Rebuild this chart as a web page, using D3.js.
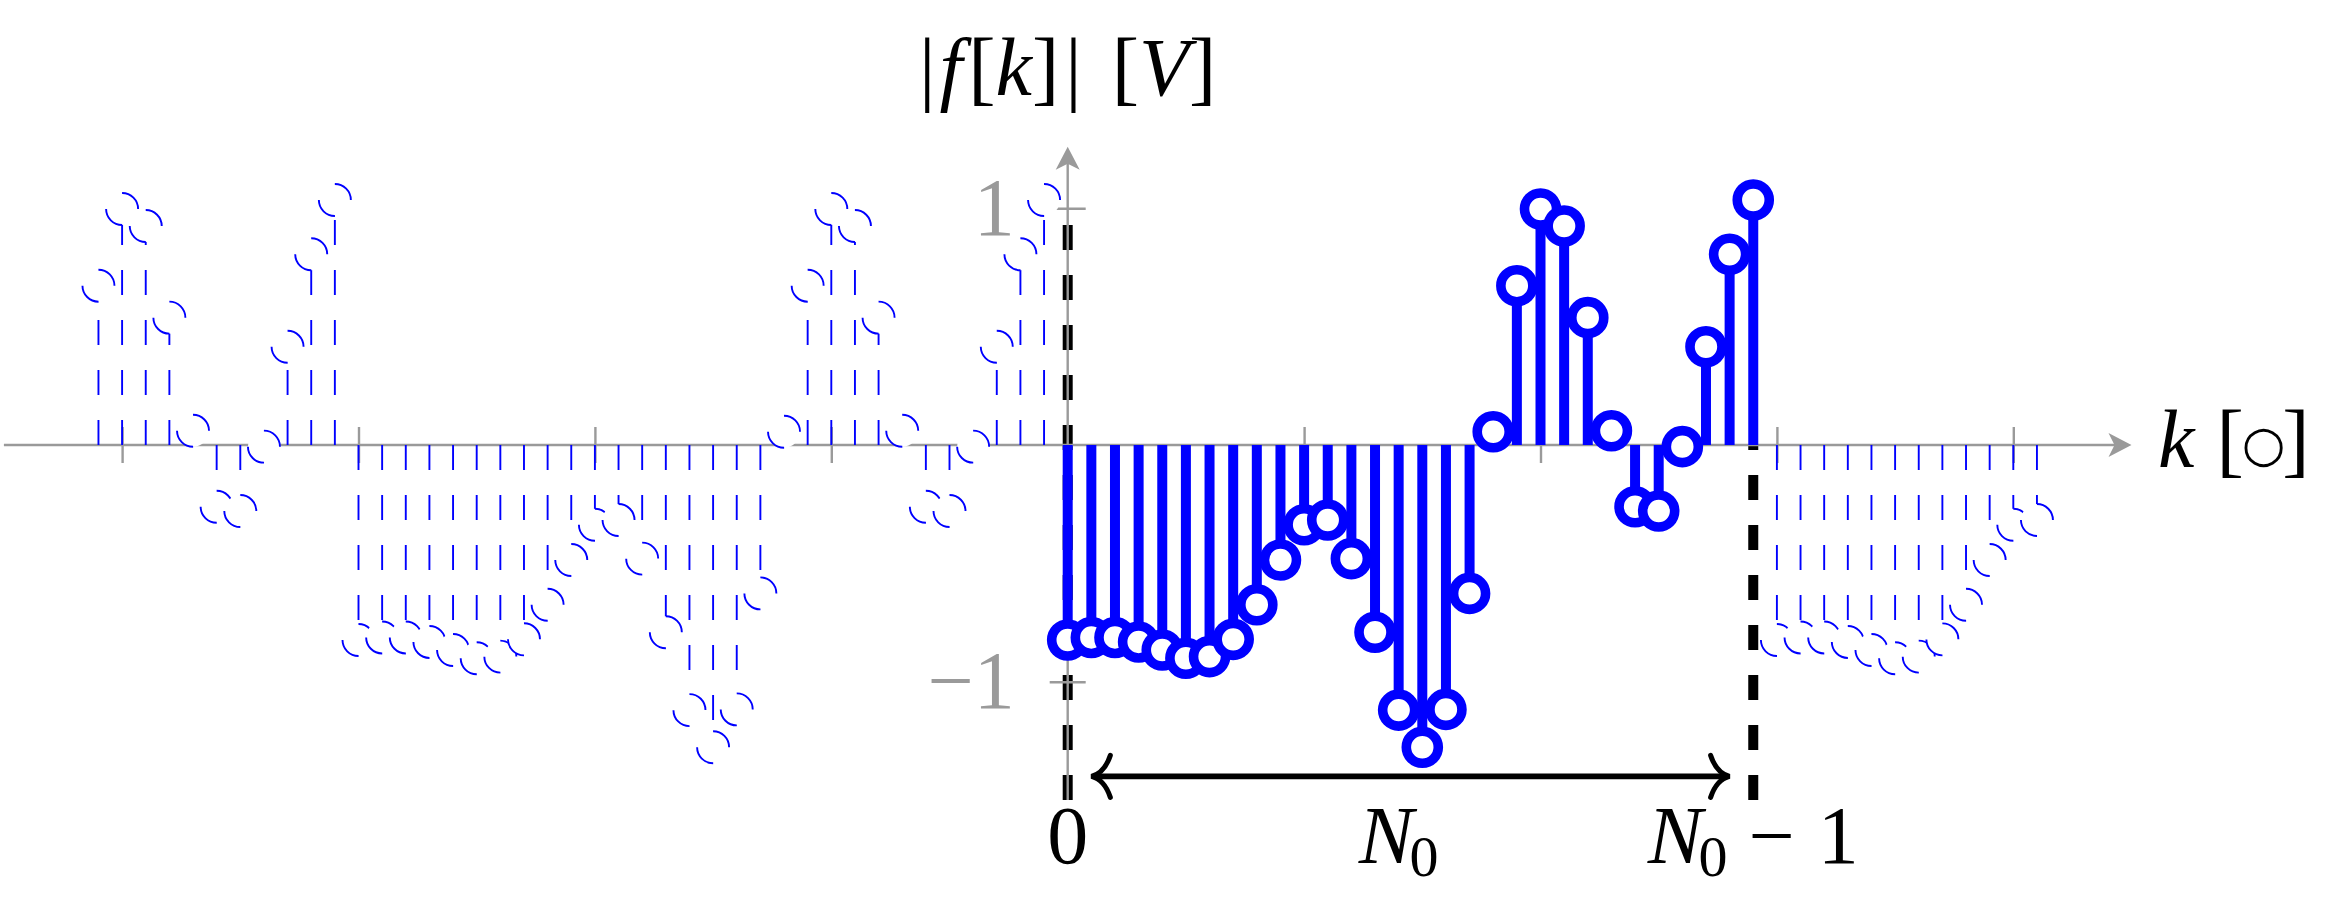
<!DOCTYPE html>
<html>
<head>
<meta charset="utf-8">
<script src="https://cdn.jsdelivr.net/npm/d3@7"></script>
<style>
  html, body { margin: 0; padding: 0; background: #ffffff; }
  svg { display: block; }
</style>
</head>
<body>
<script>
// ---------------- data ----------------
// one period of the signal f[k], k = 0 .. N0-1
const fValues = [-0.824, -0.813, -0.813, -0.832, -0.866, -0.901, -0.894, -0.821,
                 -0.675, -0.486, -0.337, -0.317, -0.480, -0.791, -1.120, -1.277,
                 -1.117, -0.627, 0.056, 0.673, 0.997, 0.925, 0.538, 0.060,
                 -0.261, -0.279, -0.007, 0.415, 0.806, 1.035];
const N0 = fValues.length;
const mainK = d3.range(0, N0);
// periodic repetitions shown dashed
const periodicK = d3.range(-41, 0).concat(d3.range(N0, 42));
const xTickValues = [-40, -30, -20, -10, 10, 20, 30, 40];
const yTickValues = [1, -1];
const yTickLabels = ["1", "\u22121"];
const xAxisDomain = [-45, 45];
const yAxisDomain = [-1.5, 1.26];
// vertical dashed markers at k = 0 and k = N0-1
const markerK = [0, N0 - 1];
const markerTop = [1, 0];
const markerBottom = -1.5;
// double arrow spanning one period
const spanK = [1, 28];
const spanY = -1.4;
// labels under the axis
const bottomLabelK = [0, 14, N0 - 1];

// ---------------- setup ----------------
const W = 2338, H = 908;
const blue = "#0000ff", gray = "#9a9a9a", black = "#000000";
const serif = "Liberation Serif, Times New Roman, serif";

const svg = d3.select("body").append("svg")
  .attr("width", W).attr("height", H)
  .attr("viewBox", `0 0 ${W} ${H}`);
svg.append("rect").attr("width", W).attr("height", H).attr("fill", "#fff");

const x = d3.scaleLinear().domain([0, 10]).range([1067.7, 1304.1]);
const y = d3.scaleLinear().domain([-1, 1]).range([681.7, 208.3]);
const fOf = k => fValues[((k % N0) + N0) % N0];

// ---------------- black dashed markers ----------------
svg.append("g").selectAll("line").data(markerK).join("line")
  .attr("x1", d => x(d)).attr("x2", d => x(d))
  .attr("y1", y(markerBottom)).attr("y2", (d, i) => y(markerTop[i]))
  .attr("stroke", black).attr("stroke-width", 10)
  .attr("stroke-dasharray", "25,25");

// ---------------- axes ----------------
const axW = 2.4;
svg.append("line")
  .attr("x1", x(xAxisDomain[0])).attr("x2", x(xAxisDomain[1]) - 14)
  .attr("y1", y(0)).attr("y2", y(0))
  .attr("stroke", gray).attr("stroke-width", axW);
{
  const tx = x(xAxisDomain[1]), ty = y(0);
  svg.append("path")
    .attr("d", `M${tx},${ty} L${tx - 23},${ty - 12} L${tx - 17},${ty} L${tx - 23},${ty + 12} Z`)
    .attr("fill", gray);
}
svg.append("line")
  .attr("x1", x(0)).attr("x2", x(0))
  .attr("y1", y(yAxisDomain[0])).attr("y2", y(yAxisDomain[1]) + 14)
  .attr("stroke", gray).attr("stroke-width", axW);
{
  const tx = x(0), ty = y(yAxisDomain[1]);
  svg.append("path")
    .attr("d", `M${tx},${ty} L${tx - 12},${ty + 23} L${tx},${ty + 17} L${tx + 12},${ty + 23} Z`)
    .attr("fill", gray);
}
const gx = svg.append("g")
  .attr("transform", `translate(0,${y(0)})`)
  .call(d3.axisBottom(x).tickValues(xTickValues).tickSize(18).tickFormat(""));
gx.select(".domain").remove();
gx.selectAll(".tick text").remove();
gx.selectAll(".tick line").attr("y1", -18).attr("y2", 18)
  .attr("stroke", gray).attr("stroke-width", axW);
const gy = svg.append("g")
  .attr("transform", `translate(${x(0)},0)`)
  .call(d3.axisLeft(y).tickValues(yTickValues).tickSize(18).tickPadding(35)
        .tickFormat((d, i) => yTickLabels[i]));
gy.select(".domain").remove();
gy.attr("font-size", 82).attr("font-family", serif);
gy.selectAll(".tick line").attr("x1", 18).attr("stroke", gray).attr("stroke-width", axW);
gy.selectAll(".tick text").attr("fill", gray);

// ---------------- periodic (dashed) copies ----------------
const r = 16;
const circlePath = (cx, cy) =>
  `M${cx + r},${cy} A${r},${r} 0 1 0 ${cx - r},${cy} A${r},${r} 0 1 0 ${cx + r},${cy}`;

svg.append("g").selectAll("line").data(periodicK).join("line")
  .attr("x1", d => x(d)).attr("x2", d => x(d))
  .attr("y1", y(0)).attr("y2", d => y(fOf(d)))
  .attr("stroke", blue).attr("stroke-width", 1.9)
  .attr("stroke-dasharray", "25,25");
svg.append("g").selectAll("path").data(periodicK).join("path")
  .attr("d", d => circlePath(x(d), y(fOf(d))))
  .attr("fill", "#fff").attr("stroke", blue).attr("stroke-width", 1.9)
  .attr("stroke-dasharray", "25,25");

// ---------------- main period ----------------
svg.append("g").selectAll("line").data(mainK).join("line")
  .attr("x1", d => x(d)).attr("x2", d => x(d))
  .attr("y1", y(0)).attr("y2", d => y(fValues[d]))
  .attr("stroke", blue).attr("stroke-width", 10);
svg.append("g").selectAll("circle").data(mainK).join("circle")
  .attr("cx", d => x(d)).attr("cy", d => y(fValues[d])).attr("r", r)
  .attr("fill", "#fff").attr("stroke", blue).attr("stroke-width", 9.6);

// ---------------- double arrow ----------------
{
  const ya = y(spanY), xl = x(spanK[0]), xr = x(spanK[1]);
  const g = svg.append("g").attr("stroke", black).attr("fill", "none");
  g.append("line").attr("x1", xl + 2).attr("x2", xr - 2).attr("y1", ya).attr("y2", ya)
    .attr("stroke-width", 5.8);
  g.append("path")
    .attr("d", `M${xl + 19},${ya - 21} Q${xl + 13},${ya - 3} ${xl},${ya} Q${xl + 13},${ya + 3} ${xl + 19},${ya + 21}`)
    .attr("stroke-width", 5).attr("stroke-linecap", "round");
  g.append("path")
    .attr("d", `M${xr - 19},${ya - 21} Q${xr - 13},${ya - 3} ${xr},${ya} Q${xr - 13},${ya + 3} ${xr - 19},${ya + 21}`)
    .attr("stroke-width", 5).attr("stroke-linecap", "round");
}

// ---------------- texts ----------------
const fs = 82;
{
  const t = svg.append("text").attr("x", x(0)).attr("y", 95)
    .attr("text-anchor", "middle").attr("font-family", serif).attr("font-size", fs)
    .attr("fill", black);
  t.append("tspan").text("|");
  t.append("tspan").attr("font-style", "italic").attr("dx", 4).text("f");
  t.append("tspan").attr("dx", 6).text("[");
  t.append("tspan").attr("font-style", "italic").text("k");
  t.append("tspan").text("]");
  t.append("tspan").attr("dx", 6).text("|");
  t.append("tspan").attr("dx", 30).text("[");
  t.append("tspan").attr("font-style", "italic").text("V");
  t.append("tspan").text("]");
}
{
  const t = svg.append("text").attr("x", 2158).attr("y", 467)
    .attr("text-anchor", "start").attr("font-family", serif).attr("font-size", fs)
    .attr("fill", black);
  t.append("tspan").attr("font-style", "italic").text("k");
  t.append("tspan").attr("dx", 22).text("[");
  t.append("tspan").attr("font-family", "DejaVu Sans").attr("font-size", 50)
    .attr("dx", -2).attr("dy", -6).text("\u25CB");
  t.append("tspan").attr("dx", -3).attr("dy", 6).text("]");
}
{
  const g = svg.append("g").attr("font-family", serif).attr("font-size", fs)
    .attr("fill", black).attr("text-anchor", "middle");
  const labelY = 863;
  g.append("text").attr("x", x(bottomLabelK[0])).attr("y", labelY).text("0");
  const t1 = g.append("text").attr("x", x(bottomLabelK[1])).attr("y", labelY);
  t1.append("tspan").attr("font-style", "italic").text("N");
  t1.append("tspan").attr("font-size", 58).attr("dx", -4).attr("dy", 13).text("0");
  const t2 = g.append("text").attr("x", x(bottomLabelK[2])).attr("y", labelY);
  t2.append("tspan").attr("font-style", "italic").text("N");
  t2.append("tspan").attr("font-size", 58).attr("dx", -4).attr("dy", 13).text("0");
  t2.append("tspan").attr("dx", 21).attr("dy", -13).text("\u2212");
  t2.append("tspan").attr("dx", 23).text("1");
}
</script>
</body>
</html>
